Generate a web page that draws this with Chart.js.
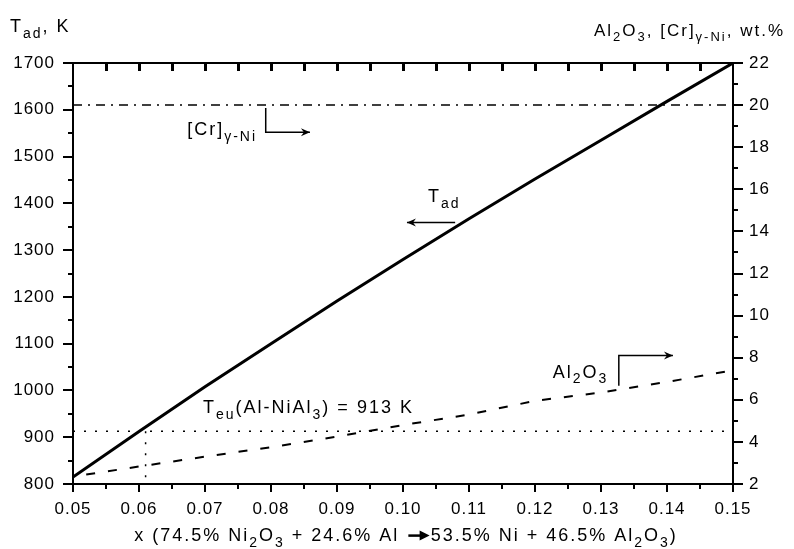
<!DOCTYPE html>
<html>
<head>
<meta charset="utf-8">
<script src="https://cdn.jsdelivr.net/npm/chart.js@4.4.0/dist/chart.umd.min.js"></script>
<style>
  html, body { margin: 0; padding: 0; background: #fff; }
  #wrap { width: 794px; height: 549px; position: relative; }
</style>
</head>
<body>
<div id="wrap"><canvas id="chart"></canvas></div>
<script>
// x = fraction of the thermite mixture
const xPoints = [0.05, 0.06, 0.07, 0.08, 0.09, 0.10, 0.11, 0.12, 0.13, 0.14, 0.15];
// adiabatic temperature, K (left axis)
const tAd = [815, 912, 1008, 1100, 1191, 1280, 1367, 1452, 1535, 1618, 1700];
// Al2O3 content, wt.% (right axis)
const al2o3X = [0.052, 0.06, 0.07, 0.08, 0.09, 0.10, 0.11, 0.12, 0.13, 0.14, 0.15];
const al2o3 = [2.45, 2.83, 3.3, 3.75, 4.25, 4.8, 5.3, 5.95, 6.35, 6.85, 7.4];
// [Cr] in gamma-Ni, wt.% (right axis)
const crX = [0.05, 0.15];
const crLevel = [20, 20];
// eutectic temperature Al-NiAl3, K
const teuX = [0.05, 0.15];
const teu = [913, 913];
const teuDropX = [0.061, 0.061];
const teuDrop = [913, 800];

// axis ranges and steps
const xRange = [0.05, 0.15, 0.01];
const tRange = [800, 1700, 100];
const wtRange = [2, 22, 2];

const FONT = '"Liberation Sans", Arial, sans-serif';

const pts = (xs, ys) => xs.map((x, i) => ({ x, y: ys[i] }));

// split "Al_{2}O_{3}" into normal / subscript parts, "->" becomes an arrow
function parse(str) {
  const out = [];
  str.split('->').forEach((chunk, ci) => {
    if (ci > 0) out.push({ arrow: true });
    chunk.split(/_\{([^}]*)\}/).forEach((t, i) => {
      if (t) out.push({ t, sub: i % 2 === 1 });
    });
  });
  return out;
}

function richText(ctx, str, x, y, size, align) {
  const subSize = Math.round(size * 0.76);
  const segs = parse(str).map(p => {
    ctx.font = `${p.sub ? subSize : size}px ${FONT}`;
    return { p, w: p.arrow ? size * 1.35 : ctx.measureText(p.t).width };
  });
  const total = segs.reduce((a, b) => a + b.w, 0);
  let cx = align === 'center' ? x - total / 2 : align === 'right' ? x - total : x;
  segs.forEach(({ p, w }) => {
    if (p.arrow) {
      const ay = y - size * 0.3;
      ctx.beginPath();
      ctx.lineWidth = 2.5;
      ctx.moveTo(cx + 2, ay);
      ctx.lineTo(cx + w - 8, ay);
      ctx.stroke();
      ctx.beginPath();
      ctx.moveTo(cx + w - 1, ay);
      ctx.lineTo(cx + w - 11, ay - 5);
      ctx.lineTo(cx + w - 11, ay + 5);
      ctx.closePath();
      ctx.fill();
    } else {
      ctx.font = `${p.sub ? subSize : size}px ${FONT}`;
      ctx.fillText(p.t, cx, p.sub ? y + size * 0.32 : y);
    }
    cx += w;
  });
}

// labels placed in data coordinates
const notes = [
  { text: '[Cr]_{γ-Ni}', x: 0.0673, y: 18.57, axis: 'y2' },
  { text: 'T_{ad}', x: 0.1038, y: 1402, axis: 'y' },
  { text: 'Al_{2}O_{3}', x: 0.1227, y: 7.05, axis: 'y2' },
  { text: 'T_{eu}(Al-NiAl_{3}) = 913 K', x: 0.0697, y: 952, axis: 'y' }
];
const arrows = [
  { path: [[0.0792, 19.86], [0.0792, 18.71], [0.0859, 18.71]], axis: 'y2' },
  { path: [[0.1079, 1359], [0.1006, 1359]], axis: 'y' },
  { path: [[0.1327, 6.67], [0.1327, 8.1], [0.1409, 8.1]], axis: 'y2' }
];

const frame = {
  id: 'frame',
  beforeDraw(chart) { chart.ctx.letterSpacing = '1px'; },
  afterDraw(chart) {
    const { ctx, chartArea: a, scales } = chart;
    const { x, y, y2 } = scales;
    ctx.save();
    ctx.strokeStyle = '#000';
    ctx.fillStyle = '#000';
    ctx.setLineDash([]);
    // top border + inward ticks every 0.005
    ctx.fillRect(a.left - 1, a.top - 1, a.right - a.left + 2, 2);
    for (let i = 1; i < 20; i++) {
      const px = Math.round(x.getPixelForValue(xRange[0] + i * 0.005));
      ctx.fillRect(px - 1, a.top, 3, 8);
    }
    // minor ticks, outward
    for (let i = 0; i < 10; i++) {
      const px = Math.round(x.getPixelForValue(xRange[0] + (i + 0.5) * xRange[2]));
      ctx.fillRect(px - 1, a.bottom, 2, 5);
    }
    for (let v = tRange[0] + tRange[2] / 2; v < tRange[1]; v += tRange[2]) {
      const py = Math.round(y.getPixelForValue(v));
      ctx.fillRect(a.left - 5, py - 1, 5, 2);
    }
    for (let v = wtRange[0] + wtRange[2] / 2; v < wtRange[1]; v += wtRange[2]) {
      const py = Math.round(y2.getPixelForValue(v));
      ctx.fillRect(a.right, py - 1, 5, 2);
    }

    // annotation arrows
    ctx.lineWidth = 1.5;
    arrows.forEach(ar => {
      const sc = scales[ar.axis];
      const p = ar.path.map(([vx, vy]) => [x.getPixelForValue(vx), sc.getPixelForValue(vy)]);
      ctx.beginPath();
      p.forEach(([px, py], i) => i ? ctx.lineTo(px, py) : ctx.moveTo(px, py));
      ctx.stroke();
      const [ex, ey] = p[p.length - 1];
      const [sx, sy] = p[p.length - 2];
      const ang = Math.atan2(ey - sy, ex - sx);
      ctx.save();
      ctx.translate(ex, ey);
      ctx.rotate(ang);
      ctx.beginPath();
      ctx.moveTo(0, 0);
      ctx.lineTo(-9, -4);
      ctx.lineTo(-6, 0);
      ctx.lineTo(-9, 4);
      ctx.closePath();
      ctx.fill();
      ctx.restore();
    });

    // texts
    ctx.letterSpacing = '2px';
    ctx.textBaseline = 'alphabetic';
    ctx.textAlign = 'left';
    notes.forEach(n => {
      richText(ctx, n.text, x.getPixelForValue(n.x), scales[n.axis].getPixelForValue(n.y), 18, 'left');
    });
    richText(ctx, 'T_{ad}, K', 10, 32, 18, 'left');
    richText(ctx, 'Al_{2}O_{3}, [Cr]_{γ-Ni}, wt.%', 785, 36, 17, 'right');
    richText(ctx, 'x (74.5% Ni_{2}O_{3} + 24.6% Al ->53.5% Ni + 46.5% Al_{2}O_{3})', 406, 541, 18, 'center');
    ctx.restore();
  }
};

const tickFont = { family: FONT, size: 17 };
const gridOpts = (len) => ({ drawOnChartArea: false, drawTicks: true, tickLength: len, color: '#000', lineWidth: 2 });
const borderOpts = { display: true, color: '#000', width: 2 };

new Chart(document.getElementById('chart'), {
  type: 'line',
  data: {
    datasets: [
      { data: pts(xPoints, tAd), yAxisID: 'y', borderColor: '#000', borderWidth: 3, pointRadius: 0, tension: 0 },
      { data: pts(al2o3X, al2o3), yAxisID: 'y2', borderColor: '#000', borderWidth: 2, borderDash: [9, 13], pointRadius: 0, tension: 0 },
      { data: pts(crX, crLevel), yAxisID: 'y2', borderColor: '#000', borderWidth: 1.5, borderDash: [9, 6, 2, 6], pointRadius: 0 },
      { data: pts(teuX, teu), yAxisID: 'y', borderColor: '#000', borderWidth: 1.5, borderDash: [2, 9], pointRadius: 0 },
      { data: pts(teuDropX, teuDrop), yAxisID: 'y', borderColor: '#000', borderWidth: 1.5, borderDash: [2, 9], pointRadius: 0 }
    ]
  },
  options: {
    responsive: true,
    maintainAspectRatio: false,
    animation: false,
    layout: { padding: { top: 63, left: 0, right: 0, bottom: 0 } },
    plugins: { legend: { display: false }, tooltip: { enabled: false } },
    scales: {
      x: {
        type: 'linear', min: xRange[0], max: xRange[1],
        ticks: { stepSize: xRange[2], callback: v => v.toFixed(2), color: '#000', font: tickFont, padding: 7, maxRotation: 0 },
        grid: gridOpts(8), border: borderOpts,
        afterFit: s => { s.height = 65; }
      },
      y: {
        position: 'left', min: tRange[0], max: tRange[1],
        ticks: { stepSize: tRange[2], callback: v => String(v), color: '#000', font: tickFont, padding: 8 },
        grid: gridOpts(10), border: borderOpts,
        afterFit: s => { s.width = 73; }
      },
      y2: {
        position: 'right', min: wtRange[0], max: wtRange[1],
        ticks: { stepSize: wtRange[2], callback: v => String(v), color: '#000', font: tickFont, padding: 6 },
        grid: gridOpts(10), border: borderOpts,
        afterFit: s => { s.width = 61; }
      }
    }
  },
  plugins: [frame]
});
</script>
</body>
</html>
